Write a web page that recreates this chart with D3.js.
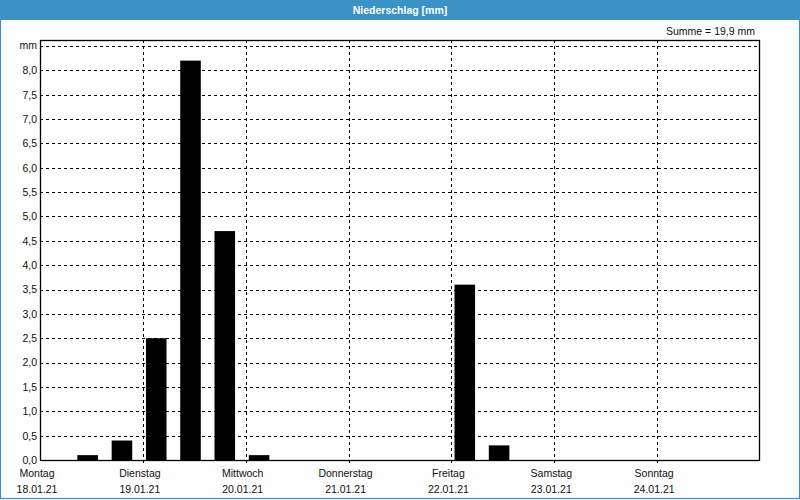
<!DOCTYPE html>
<html>
<head>
<meta charset="utf-8">
<script src="https://cdn.jsdelivr.net/npm/d3@7/dist/d3.min.js"></script>
<style>
html,body{margin:0;padding:0;background:#fdfefd;}
svg{display:block;}
text{font-family:"Liberation Sans",Arial,sans-serif;font-size:10.5px;fill:#111;}
</style>
</head>
<body>
<svg id="chart" width="800" height="500"></svg>
<script>
// 8-hour precipitation bins, Mon 18.01.21 00:00 to Mon 25.01.21 00:00
const binStarts = ["2021-01-18T00:00Z","2021-01-18T08:00Z","2021-01-18T16:00Z",
  "2021-01-19T00:00Z","2021-01-19T08:00Z","2021-01-19T16:00Z",
  "2021-01-20T00:00Z","2021-01-20T08:00Z","2021-01-20T16:00Z",
  "2021-01-21T00:00Z","2021-01-21T08:00Z","2021-01-21T16:00Z",
  "2021-01-22T00:00Z","2021-01-22T08:00Z","2021-01-22T16:00Z",
  "2021-01-23T00:00Z","2021-01-23T08:00Z","2021-01-23T16:00Z",
  "2021-01-24T00:00Z","2021-01-24T08:00Z","2021-01-24T16:00Z"];
const precip = [0, 0.1, 0.4, 2.5, 8.2, 4.7, 0.1, 0, 0, 0, 0, 0, 3.6, 0.3, 0, 0, 0, 0, 0, 0, 0];
const dayNames = ["Montag","Dienstag","Mittwoch","Donnerstag","Freitag","Samstag","Sonntag"];
const dayDates = ["18.01.21","19.01.21","20.01.21","21.01.21","22.01.21","23.01.21","24.01.21"];
const dayStarts = ["2021-01-18T00:00Z","2021-01-19T00:00Z","2021-01-20T00:00Z","2021-01-21T00:00Z","2021-01-22T00:00Z","2021-01-23T00:00Z","2021-01-24T00:00Z"];
const yTicks = [0,0.5,1,1.5,2,2.5,3,3.5,4,4.5,5,5.5,6,6.5,7,7.5,8];
const yTopLabel = "mm";
const titleText = "Niederschlag [mm]";
const sumText = "Summe = 19,9 mm";

const svg = d3.select("#chart");
const W = 800, H = 500;
const L = 40, R = 760, T = 40, B = 460;
const blue = "#3b92c4";

const x = d3.scaleUtc().domain([new Date("2021-01-18T00:00Z"), new Date("2021-01-25T00:00Z")]).range([L, R]);
const y = d3.scaleLinear().domain([0, 8.5]).range([B, 46]);
const fmt = d => d3.format(".1f")(d).replace(".", ",");

// outer border and title bar
svg.append("rect").attr("x",0.5).attr("y",0.5).attr("width",W-1).attr("height",H-2)
  .attr("fill","#fdfefd").attr("stroke",blue).attr("stroke-width",1.2);
svg.append("rect").attr("x",0).attr("y",0).attr("width",W).attr("height",20).attr("fill",blue);
svg.append("text").attr("x",W/2).attr("y",14).attr("text-anchor","middle")
  .style("fill","#fff").style("font-weight","bold").style("font-size","10.5px").text(titleText);
svg.append("text").attr("x",755).attr("y",35).attr("text-anchor","end").text(sumText);

// plot background
svg.append("rect").attr("x",L).attr("y",T).attr("width",R-L).attr("height",B-T).attr("fill","#fff");

// horizontal grid
const yGrid = yTicks.slice(1).concat([8.5]);
svg.append("g").selectAll("line").data(yGrid).join("line")
  .attr("x1",L).attr("x2",R)
  .attr("y1",d=>Math.round(y(d))+0.5).attr("y2",d=>Math.round(y(d))+0.5)
  .attr("stroke","#000").attr("stroke-dasharray","3,3");

// vertical grid at day boundaries
const dayDates0 = dayStarts.map(s => new Date(s));
svg.append("g").selectAll("line").data(dayDates0.slice(1)).join("line")
  .attr("x1",d=>Math.round(x(d))+0.5).attr("x2",d=>Math.round(x(d))+0.5)
  .attr("y1",T).attr("y2",B+3)
  .attr("stroke","#000").attr("stroke-dasharray","3,3");

// bars
const binMs = 8*3600*1000;
svg.append("g").selectAll("rect").data(binStarts.map((s,i)=>({t:new Date(s), v:precip[i]})).filter(d=>d.v>0)).join("rect")
  .attr("x", d => x(new Date(+d.t + 0.09*binMs)))
  .attr("width", d => x(new Date(+d.t + 0.69*binMs)) - x(new Date(+d.t + 0.09*binMs)))
  .attr("y", d => y(d.v))
  .attr("height", d => y(0) - y(d.v))
  .attr("fill","#000");

// frame
svg.append("rect").attr("x",L+0.5).attr("y",T+0.5).attr("width",R-L-1).attr("height",B-T)
  .attr("fill","none").attr("stroke","#000").attr("stroke-width",1.3);

// y axis labels
const yAxis = d3.axisLeft(y).tickValues(yTicks).tickFormat(fmt).tickSize(0).tickPadding(3);
const ga = svg.append("g").attr("transform",`translate(${L},0)`).call(yAxis);
ga.select(".domain").remove();
ga.selectAll("text").style("font-family","'Liberation Sans',Arial,sans-serif").style("font-size","10.5px").attr("fill","#111");
svg.append("text").attr("x",L-3).attr("y",y(8.5)).attr("dy","0.32em").attr("text-anchor","end").text(yTopLabel);

// x labels
const gx = svg.append("g");
dayDates0.forEach((d,i)=>{
  gx.append("text").attr("x",x(d)-3).attr("y",477).attr("text-anchor","middle").text(dayNames[i]);
  gx.append("text").attr("x",x(d)-3).attr("y",493).attr("text-anchor","middle").text(dayDates[i]);
});
</script>
</body>
</html>
